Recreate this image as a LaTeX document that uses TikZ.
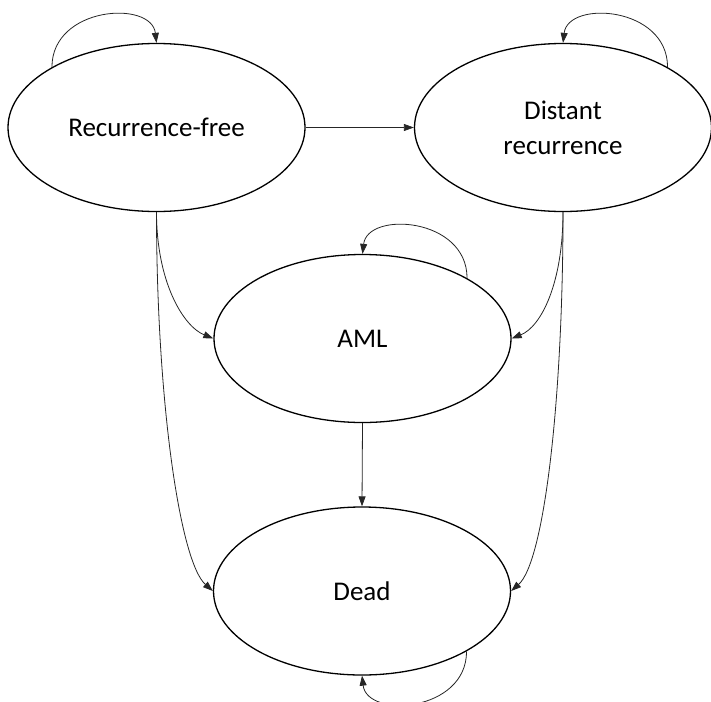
\documentclass[tikz,border=0pt]{standalone}
\usepackage{fontspec}
\setmainfont{Carlito}
\usetikzlibrary{shapes.geometric,arrows.meta}
\tikzset{
  state/.style={ellipse, draw=black, line width=1.3pt, minimum width=297pt, minimum height=168pt, inner sep=0pt, align=center, font=\fontsize{27}{35}\selectfont},
  conn/.style={draw=black!85, line width=0.8pt, -{Triangle[length=10pt,width=7pt]}}
}
\begin{document}
\begin{tikzpicture}[x=1pt,y=-1pt]
\useasboundingbox (0,0) rectangle (711,701);
\clip (0,0) rectangle (711,701);
\node[state] (rf) at (156.5,127.5) {Recurrence-free};
\node[state] (dr) at (563,127.5) {Distant\\recurrence};
\node[state] (aml) at (362.5,338.5) {AML};
\node[state] (dead) at (362,591) {Dead};
% straight connectors
\draw[conn] (rf.east) -- (dr.west);
\draw[conn] (aml.south) -- (dead.north);
% curved connectors
\draw[conn] (rf.south) .. controls +(0,70) and +(-30,-12) .. (aml.west);
\draw[conn] (rf.south) .. controls +(0,188) and +(-33,-29) .. (dead.west);
\draw[conn] (dr.south) .. controls +(0,70) and +(30,-12) .. (aml.east);
\draw[conn] (dr.south) .. controls +(0,188) and +(33,-29) .. (dead.east);
% self loops
\draw[conn] (rf.150) .. controls +(0,-61) and +(-5,-43) .. (rf.north);
\draw[conn] (dr.30) .. controls +(0,-61) and +(5,-43) .. (dr.north);
\draw[conn] (aml.30) .. controls +(0,-61) and +(5,-43) .. (aml.north);
\draw[conn] (dead.-30) .. controls +(0,61) and +(5,43) .. (dead.south);
\end{tikzpicture}
\end{document}
